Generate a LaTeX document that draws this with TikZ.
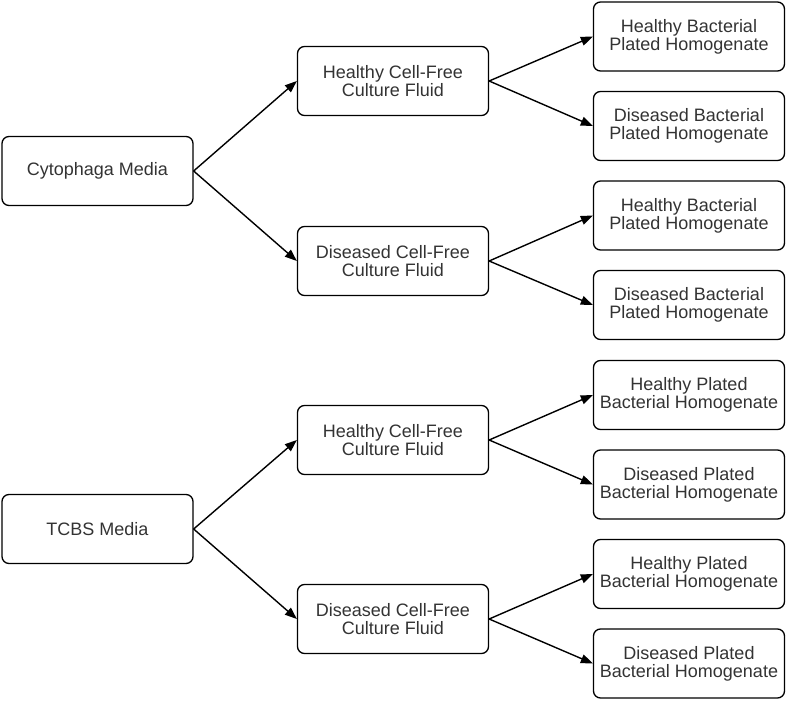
\documentclass[tikz,border=0pt]{standalone}
\usepackage{fontspec}
\setmainfont{Liberation Sans}
\usetikzlibrary{arrows.meta}
\definecolor{txt}{HTML}{333333}
\tikzset{
  box/.style={draw=black, line width=1.3pt, rounded corners=7pt, minimum width=191pt, minimum height=69pt,
    align=center, text=txt, font=\fontsize{18}{18}\selectfont, inner sep=0pt},
  conn/.style={draw=black, line width=1.4pt, -{Triangle[length=12pt,width=9pt]}, shorten >=0pt}
}
\begin{document}
\begin{tikzpicture}[x=1pt,y=-1pt]
\useasboundingbox (0,0) rectangle (787,701);
\node[box] (cm) at (97.5,171) {Cytophaga Media};
\node[box] (tm) at (97.5,529) {TCBS Media};
\node[box] (h1) at (393,81) {Healthy Cell-Free\\Culture Fluid};
\node[box] (d1) at (393,261) {Diseased Cell-Free\\Culture Fluid};
\node[box] (h2) at (393,440) {Healthy Cell-Free\\Culture Fluid};
\node[box] (d2) at (393,619) {Diseased Cell-Free\\Culture Fluid};
\node[box] (r1) at (689,36.5) {Healthy Bacterial\\Plated Homogenate};
\node[box] (r2) at (689,126) {Diseased Bacterial\\Plated Homogenate};
\node[box] (r3) at (689,215.5) {Healthy Bacterial\\Plated Homogenate};
\node[box] (r4) at (689,305) {Diseased Bacterial\\Plated Homogenate};
\node[box] (r5) at (689,395) {Healthy Plated\\Bacterial Homogenate};
\node[box] (r6) at (689,484.5) {Diseased Plated\\Bacterial Homogenate};
\node[box] (r7) at (689,574) {Healthy Plated\\Bacterial Homogenate};
\node[box] (r8) at (689,663.5) {Diseased Plated\\Bacterial Homogenate};
\draw[conn] (cm.east) -- (h1.west);
\draw[conn] (cm.east) -- (d1.west);
\draw[conn] (tm.east) -- (h2.west);
\draw[conn] (tm.east) -- (d2.west);
\draw[conn] (h1.east) -- (r1.west);
\draw[conn] (h1.east) -- (r2.west);
\draw[conn] (d1.east) -- (r3.west);
\draw[conn] (d1.east) -- (r4.west);
\draw[conn] (h2.east) -- (r5.west);
\draw[conn] (h2.east) -- (r6.west);
\draw[conn] (d2.east) -- (r7.west);
\draw[conn] (d2.east) -- (r8.west);
\end{tikzpicture}
\end{document}
